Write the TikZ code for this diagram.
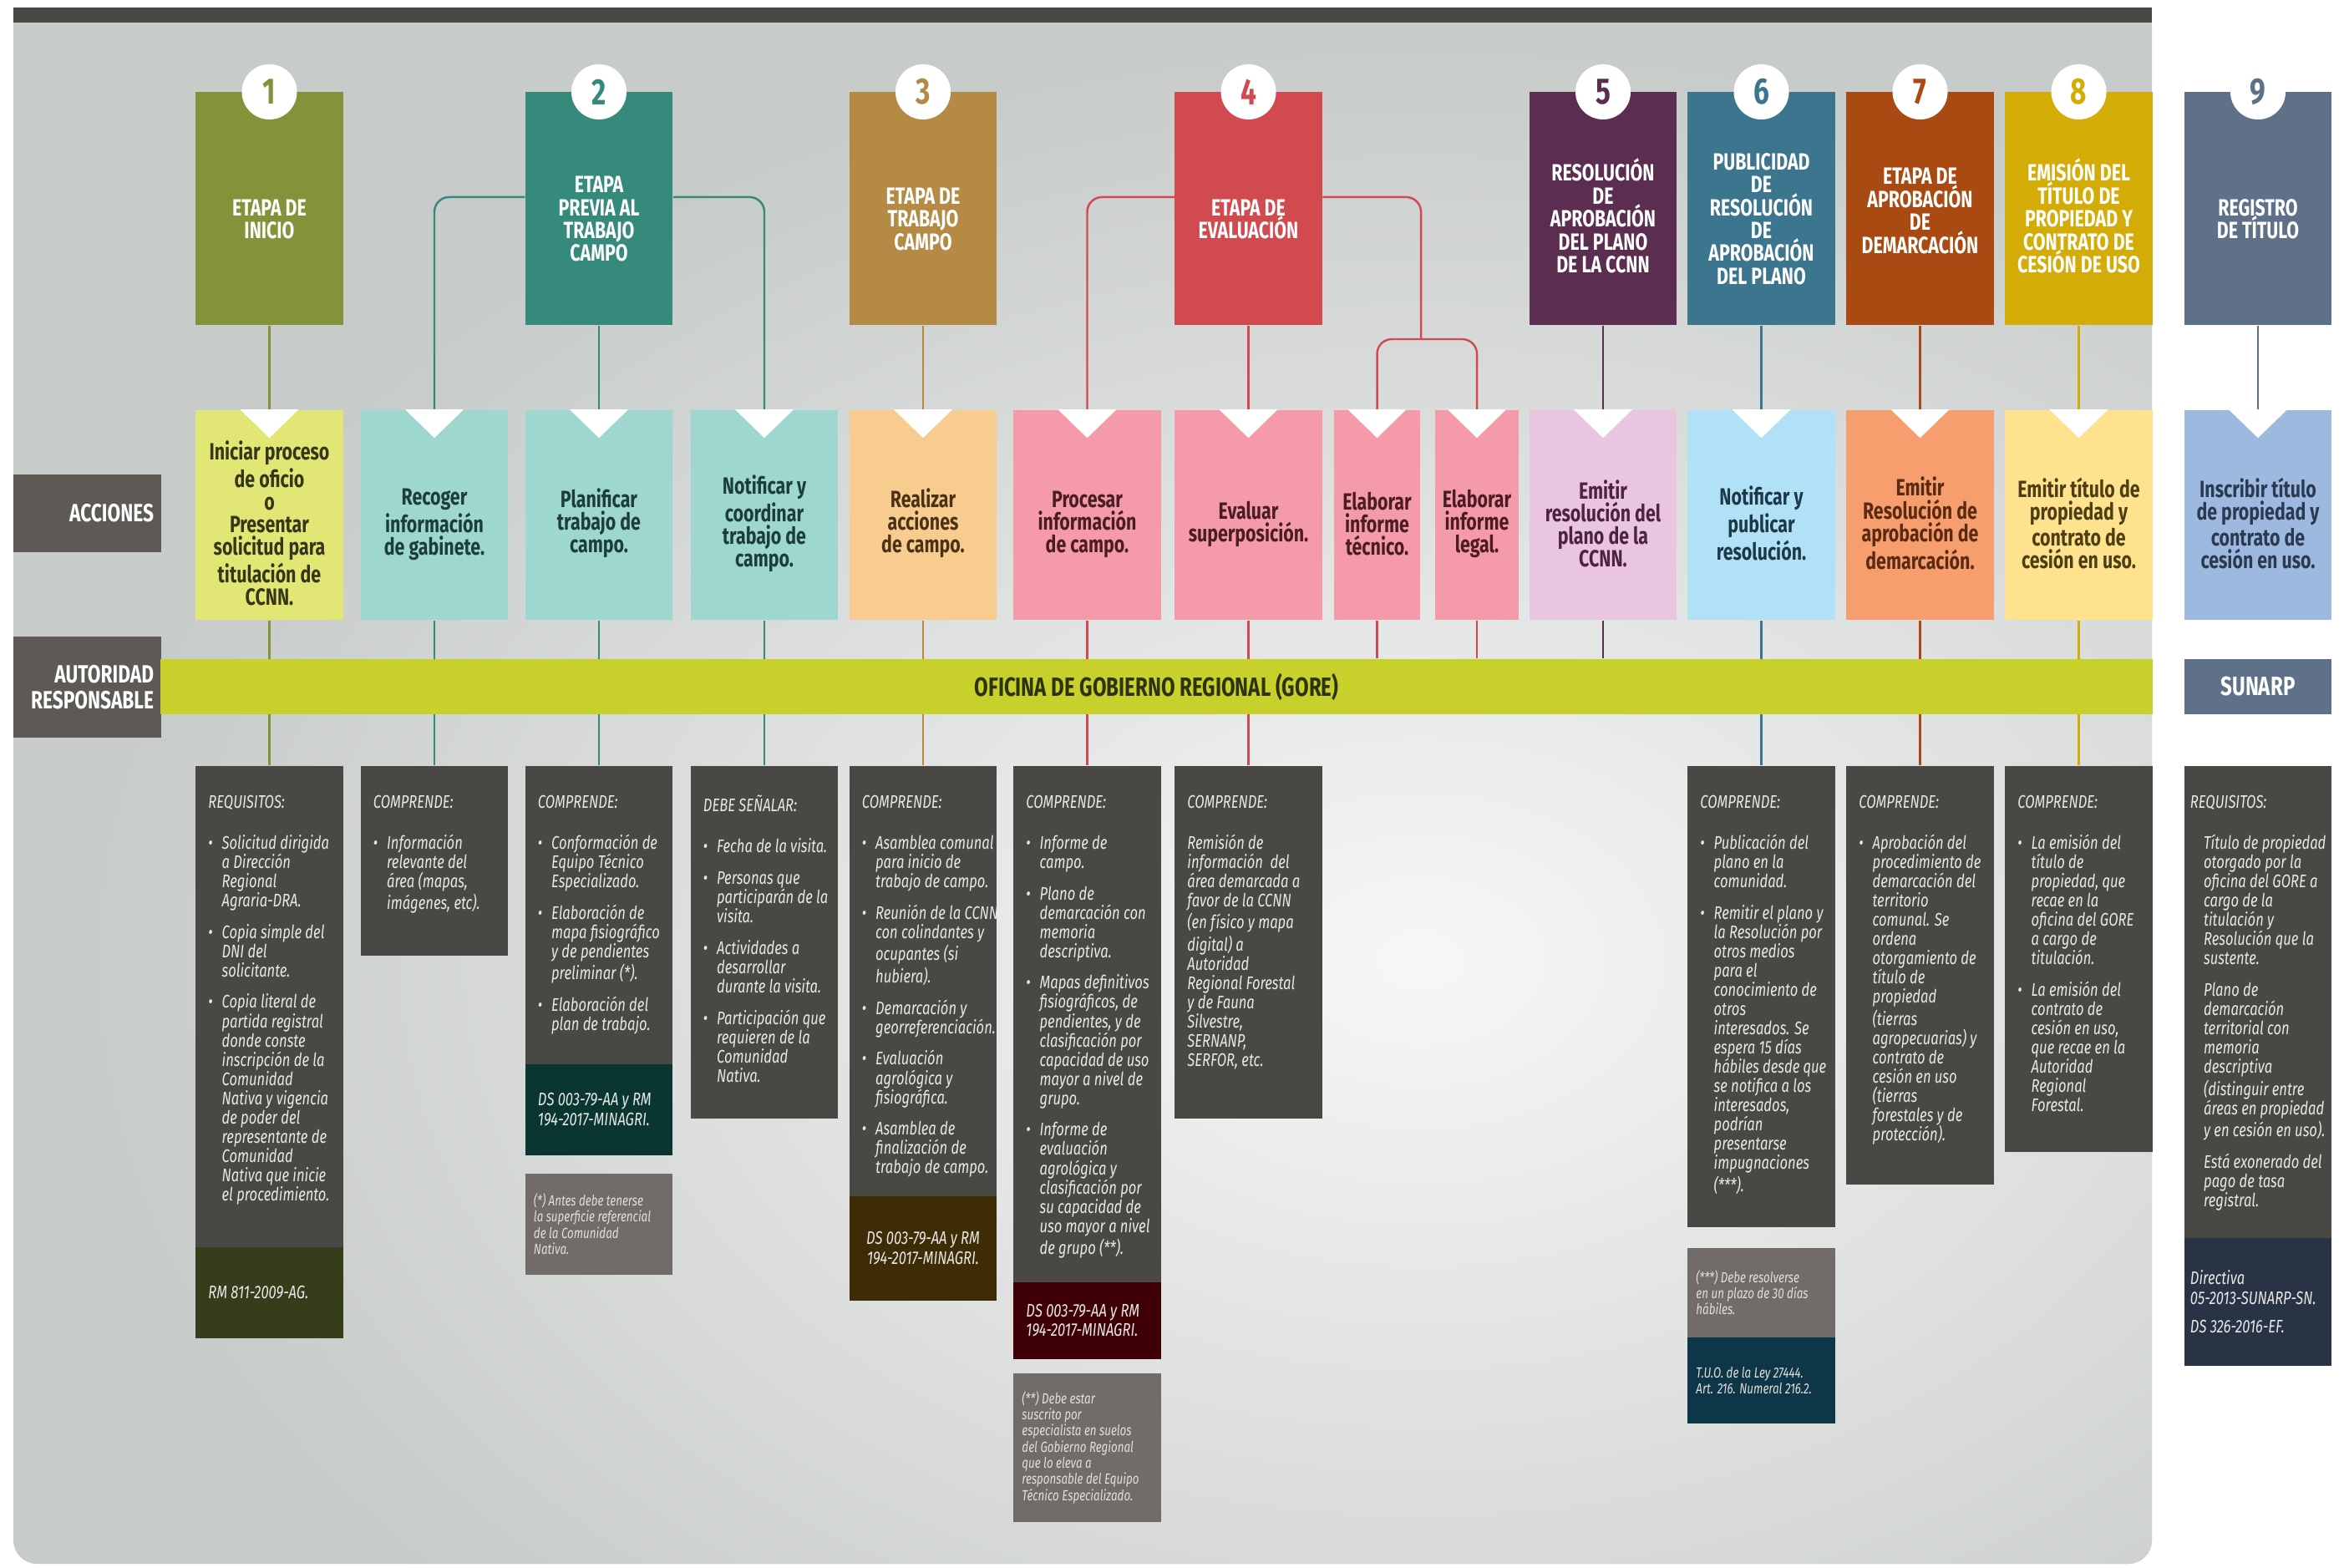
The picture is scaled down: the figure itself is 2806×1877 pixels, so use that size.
\documentclass[tikz,border=0pt]{standalone}
\usepackage{fontspec}
\setmainfont[FakeStretch=0.76]{Fira Sans}
\usetikzlibrary{shapes}
\pgfdeclarelayer{panel}
\pgfdeclarelayer{lines}
\pgfsetlayers{panel,lines,main}
\definecolor{c1}{HTML}{84933A}
\definecolor{c2}{HTML}{358A7C}
\definecolor{c3}{HTML}{B48A44}
\definecolor{c4}{HTML}{D14A50}
\definecolor{c5}{HTML}{5B2D50}
\definecolor{c6}{HTML}{3C758E}
\definecolor{c7}{HTML}{A94A12}
\definecolor{c8}{HTML}{D3AC08}
\definecolor{c9}{HTML}{5E7189}
\definecolor{f1}{HTML}{E1E675}
\definecolor{f2}{HTML}{9ED7D0}
\definecolor{f3}{HTML}{F8CC8E}
\definecolor{f4}{HTML}{F59AA9}
\definecolor{f5}{HTML}{EAC5DF}
\definecolor{f6}{HTML}{B1E1F7}
\definecolor{f7}{HTML}{F69E6E}
\definecolor{f8}{HTML}{FEE28D}
\definecolor{f9}{HTML}{9EB9E0}
\definecolor{t1}{HTML}{35361A}
\definecolor{t2}{HTML}{1D3D38}
\definecolor{t3}{HTML}{4A3217}
\definecolor{t4}{HTML}{4B1D22}
\definecolor{t5}{HTML}{4B2442}
\definecolor{t6}{HTML}{1D3947}
\definecolor{t7}{HTML}{5B2A12}
\definecolor{t8}{HTML}{4D3E14}
\definecolor{t9}{HTML}{2A3A50}
\definecolor{r1}{HTML}{363D1A}
\definecolor{r2}{HTML}{093630}
\definecolor{r3}{HTML}{3D2C05}
\definecolor{r4}{HTML}{3E0004}
\definecolor{r6}{HTML}{0D3748}
\definecolor{r9}{HTML}{283346}
\definecolor{panelGray}{HTML}{C7CBCA}
\definecolor{panelLight}{HTML}{F6F7F6}
\definecolor{topBar}{HTML}{4A4844}
\definecolor{labGray}{HTML}{5D5A56}
\definecolor{lowGray}{HTML}{4A4844}
\definecolor{lowText}{HTML}{E8E8E6}
\definecolor{noteGray}{HTML}{716C67}
\definecolor{noteText}{HTML}{E2DFDC}
\definecolor{barColor}{HTML}{C8D02C}
\definecolor{barText}{HTML}{2D3211}
\newcommand{\pushdown}[1]{\mbox{}\\[#1]}
\newcommand{\hd}[1]{#1\par\vspace{7.4pt}}
\newcommand{\itm}[1]{\hangindent=4.6pt\hangafter=1\noindent\makebox[4.6pt][l]{\textbullet}#1\par\vspace{4.2pt}}
\newcommand{\itn}[1]{{\leftskip=4.6pt\noindent#1\par}\vspace{4.2pt}}
\newcommand{\lowtext}[3][1.46cm]{\makebox[#1][l]{\begin{minipage}[t][#2][t]{2.3cm}\vspace*{10pt}\setlength{\parindent}{0pt}\rightskip=0pt plus 1fil\relax#3\end{minipage}}}

\begin{document}
\begin{tikzpicture}[x=0.01cm, y=-0.01cm]
\tikzstyle{headStyle}=[minimum width=1.76cm, minimum height=2.79cm, inner sep=0, text=white, align=center, font=\fontsize{8}{7.8}\selectfont\bfseries]
\tikzstyle{numStyle}=[circle, fill=white, minimum size=0.66cm, inner sep=0, font=\fontsize{12.5}{12.5}\selectfont\bfseries]
\tikzstyle{actStyle}=[minimum width=1.76cm, minimum height=2.51cm, inner sep=0, align=center, font=\fontsize{8}{7.7}\selectfont\bfseries]
\tikzstyle{labStyle}=[fill=labGray, text=white, minimum width=1.77cm, text width=1.59cm, inner xsep=0.09cm, inner ysep=0, align=flush right, font=\fontsize{8.5}{8.7}\selectfont\bfseries]
\tikzstyle{lowStyle}=[fill=lowGray, text=lowText, inner xsep=0.15cm, inner ysep=0, anchor=north, font=\fontsize{6.2}{6.55}\selectfont\itshape]
\tikzstyle{refStyle}=[text=lowText, text width=1.46cm, inner xsep=0.15cm, inner ysep=0, align=flush left, anchor=north, font=\fontsize{6.2}{6.65}\selectfont\itshape]
\tikzstyle{noteStyle}=[fill=noteGray, text=noteText, text width=1.56cm, inner xsep=0.1cm, inner ysep=0, align=flush left, anchor=north, font=\fontsize{5}{5.5}\selectfont\itshape]
\tikzstyle{link}=[line width=0.7pt]
\useasboundingbox (0,0) rectangle (2806,1877);
\begin{pgfonlayer}{panel}
\fill[white] (0,0) rectangle (2806,1877);
\begin{scope}
\clip (16,27) -- (2576,27) [rounded corners=8pt] -- (2576,1872) -- (16,1872) [sharp corners] -- cycle;
\fill[panelGray] (0,0) rectangle (2806,1877);
\shade[inner color=panelLight, outer color=panelGray] (1700,1150) ellipse (16cm and 11cm);
\end{scope}
\fill[topBar] (16,9) rectangle (2576,27);
\end{pgfonlayer}

\node[headStyle, fill=c1] (hd1) at (322.5,249.5) {\pushdown{5pt}ETAPA DE\\INICIO};
\node[headStyle, fill=c2] (hd2) at (717,249.5) {\pushdown{5pt}ETAPA\\PREVIA AL\\TRABAJO\\CAMPO};
\node[headStyle, fill=c3] (hd3) at (1105,249.5) {\pushdown{5pt}ETAPA DE\\TRABAJO\\CAMPO};
\node[headStyle, fill=c4] (hd4) at (1494.5,249.5) {\pushdown{5pt}ETAPA DE\\EVALUACIÓN};
\node[headStyle, fill=c5] (hd5) at (1919,249.5) {\pushdown{5pt}RESOLUCIÓN\\DE\\APROBACIÓN\\DEL PLANO\\DE LA CCNN};
\node[headStyle, fill=c6] (hd6) at (2108.5,249.5) {\pushdown{5pt}PUBLICIDAD\\DE\\RESOLUCIÓN\\DE\\APROBACIÓN\\DEL PLANO};
\node[headStyle, fill=c7] (hd7) at (2298.5,249.5) {\pushdown{-0.5pt}ETAPA DE\\APROBACIÓN\\DE\\DEMARCACIÓN};
\node[headStyle, fill=c8] (hd8) at (2488.5,249.5) {\pushdown{5pt}EMISIÓN DEL\\TÍTULO DE\\PROPIEDAD Y\\CONTRATO DE\\CESIÓN DE USO};
\node[headStyle, fill=c9] (hd9) at (2703,249.5) {\pushdown{5pt}REGISTRO\\DE TÍTULO};

\node[numStyle, text=c1] (num1) at (322.5,110) {1};
\node[numStyle, text=c2] (num2) at (717,110) {2};
\node[numStyle, text=c3] (num3) at (1105,110) {3};
\node[numStyle, text=c4] (num4) at (1494.5,110) {4};
\node[numStyle, text=c5] (num5) at (1919,110) {5};
\node[numStyle, text=c6] (num6) at (2108.5,110) {6};
\node[numStyle, text=c7] (num7) at (2298.5,110) {7};
\node[numStyle, text=c8] (num8) at (2488.5,110) {8};
\node[numStyle, text=c9] (num9) at (2703,110) {9};

\node[actStyle, fill=f1, text=t1] (act1) at (322.5,616.5) {\pushdown{4.5pt}Iniciar proceso\\de oficio\\o\\Presentar\\solicitud para\\titulación de\\CCNN.};
\node[actStyle, fill=f2, text=t2] (act2a) at (520,616.5) {\pushdown{4.5pt}Recoger\\información\\de gabinete.};
\node[actStyle, fill=f2, text=t2] (act2b) at (717,616.5) {\pushdown{4.5pt}Planificar\\trabajo de\\campo.};
\node[actStyle, fill=f2, text=t2] (act2c) at (915,616.5) {\pushdown{4.5pt}Notificar y\\coordinar\\trabajo de\\campo.};
\node[actStyle, fill=f3, text=t3] (act3) at (1105,616.5) {\pushdown{4.5pt}Realizar\\acciones\\de campo.};
\node[actStyle, fill=f4, text=t4] (act4a) at (1301.5,616.5) {\pushdown{4.5pt}Procesar\\información\\de campo.};
\node[actStyle, fill=f4, text=t4] (act4b) at (1494.5,616.5) {\pushdown{4.5pt}Evaluar\\superposición.};
\node[actStyle, fill=f4, text=t4, minimum width=1.03cm] (act4c) at (1648.5,616.5) {\pushdown{4.5pt}Elaborar\\informe\\técnico.};
\node[actStyle, fill=f4, text=t4, minimum width=1.0cm] (act4d) at (1768,616.5) {\pushdown{4.5pt}Elaborar\\informe\\legal.};
\node[actStyle, fill=f5, text=t5] (act5) at (1919,616.5) {\pushdown{4.5pt}Emitir\\resolución del\\plano de la\\CCNN.};
\node[actStyle, fill=f6, text=t6] (act6) at (2108.5,616.5) {\pushdown{4.5pt}Notificar y\\publicar\\resolución.};
\node[actStyle, fill=f7, text=t7] (act7) at (2298.5,616.5) {\pushdown{4.5pt}Emitir\\Resolución de\\aprobación de\\demarcación.};
\node[actStyle, fill=f8, text=t8] (act8) at (2488.5,616.5) {\pushdown{4.5pt}Emitir título de\\propiedad y\\contrato de\\cesión en uso.};
\node[actStyle, fill=f9, text=t9] (act9) at (2703,616.5) {\pushdown{4.5pt}Inscribir título\\de propiedad y\\contrato de\\cesión en uso.};
\foreach \a in {act1,act2a,act2b,act2c,act3,act4a,act4b,act4c,act4d,act5,act6,act7,act8,act9}
  \fill[white] ([xshift=-0.35cm]\a.north) -- ([xshift=0.35cm]\a.north) -- ([yshift=-0.34cm]\a.north) -- cycle;

\node[labStyle, minimum height=0.93cm] (acc) at (104.5,614.5) {ACCIONES};
\node[labStyle, minimum height=1.21cm] (aut) at (104.5,822.5) {AUTORIDAD\\RESPONSABLE};
\node[fill=barColor, minimum width=23.83cm, minimum height=0.66cm, inner sep=0, text=barText, font=\fontsize{9}{9}\selectfont\bfseries] (gore) at (1384.5,822) {OFICINA DE GOBIERNO REGIONAL (GORE)};
\node[fill=c9, minimum width=1.76cm, minimum height=0.66cm, inner sep=0, text=white, font=\fontsize{9}{9}\selectfont\bfseries] (sunarp) at (2703,822) {SUNARP};

\node[lowStyle] (low1) at (322.5,916) {\lowtext{5.76cm}{\hd{REQUISITOS:}
\itm{Solicitud dirigida\\a Dirección\\Regional\\Agraria-DRA.}
\itm{Copia simple del\\DNI del\\solicitante.}
\itm{Copia literal de\\partida registral\\donde conste\\inscripción de la\\Comunidad\\Nativa y vigencia\\de poder del\\representante de\\Comunidad\\Nativa que inicie\\el procedimiento.}}};
\node[refStyle, fill=r1, minimum height=1.09cm] (ref1) at (322.5,1492) {RM 811-2009-AG.};

\node[lowStyle] (low2a) at (520,916) {\lowtext{2.27cm}{\hd{COMPRENDE:}
\itm{Información\\relevante del\\área (mapas,\\imágenes, etc).}}};

\node[lowStyle] (low2b) at (717,916) {\lowtext{3.57cm}{\hd{COMPRENDE:}
\itm{Conformación de\\Equipo Técnico\\Especializado.}
\itm{Elaboración de\\mapa fisiográfico\\y de pendientes\\preliminar (*).}
\itm{Elaboración del\\plan de trabajo.}}};
\node[refStyle, fill=r2, minimum height=1.09cm] (ref2b) at (717,1273) {DS 003-79-AA y RM\\194-2017-MINAGRI.};
\node[noteStyle, minimum height=1.21cm] (nb2b) at (717,1404) {(*) Antes debe tenerse\\la superficie referencial\\de la Comunidad\\Nativa.};

\node[lowStyle] (low2c) at (915,916) {\lowtext{4.22cm}{\hd{DEBE SEÑALAR:}
\itm{Fecha de la visita.}
\itm{Personas que\\participarán de la\\visita.}
\itm{Actividades a\\desarrollar\\durante la visita.}
\itm{Participación que\\requieren de la\\Comunidad\\Nativa.}}};

\node[lowStyle] (low3) at (1105,916) {\lowtext{5.15cm}{\hd{COMPRENDE:}
\itm{Asamblea comunal\\para inicio de\\trabajo de campo.}
\itm{Reunión de la CCNN\\con colindantes y\\ocupantes (si\\hubiera).}
\itm{Demarcación y\\georreferenciación.}
\itm{Evaluación\\agrológica y\\fisiográfica.}
\itm{Asamblea de\\finalización de\\trabajo de campo.}}};
\node[refStyle, fill=r3, minimum height=1.25cm, align=flush center] (ref3) at (1105,1431) {DS 003-79-AA y RM\\194-2017-MINAGRI.};

\node[lowStyle] (low4a) at (1301.5,916) {\lowtext{6.18cm}{\hd{COMPRENDE:}
\itm{Informe de\\campo.}
\itm{Plano de\\demarcación con\\memoria\\descriptiva.}
\itm{Mapas definitivos\\fisiográficos, de\\pendientes, y de\\clasificación por\\capacidad de uso\\mayor a nivel de\\grupo.}
\itm{Informe de\\evaluación\\agrológica y\\clasificación por\\su capacidad de\\uso mayor a nivel\\de grupo (**).}}};
\node[refStyle, fill=r4, minimum height=0.92cm] (ref4a) at (1301.5,1534) {DS 003-79-AA y RM\\194-2017-MINAGRI.};
\node[noteStyle, minimum height=1.78cm] (nb4a) at (1301.5,1643) {(**) Debe estar\\suscrito por\\especialista en suelos\\del Gobierno Regional\\que lo eleva a\\responsable del Equipo\\Técnico Especializado.};

\node[lowStyle] (low4b) at (1494.5,916) {\lowtext{4.22cm}{\hd{COMPRENDE:}
Remisión de\\información\ \ del\\área demarcada a\\favor de la CCNN\\(en físico y mapa\\digital) a\\Autoridad\\Regional Forestal\\y de Fauna\\Silvestre,\\SERNANP,\\SERFOR, etc.}};

\node[lowStyle] (low6) at (2108.5,916) {\lowtext{5.52cm}{\hd{COMPRENDE:}
\itm{Publicación del\\plano en la\\comunidad.}
\itm{Remitir el plano y\\la Resolución por\\otros medios\\para el\\conocimiento de\\otros\\interesados. Se\\espera 15 días\\hábiles desde que\\se notifica a los\\interesados,\\podrían\\presentarse\\impugnaciones\\(***).}}};
\node[noteStyle, minimum height=1.07cm] (nb6) at (2108.5,1493) {(***) Debe resolverse\\en un plazo de 30 días\\hábiles.};
\node[noteStyle, fill=r6, minimum height=1.03cm] (ref6) at (2108.5,1600) {T.U.O. de la Ley 27444.\\Art. 216. Numeral 216.2.};

\node[lowStyle] (low7) at (2298.5,916) {\lowtext{5.01cm}{\hd{COMPRENDE:}
\itm{Aprobación del\\procedimiento de\\demarcación del\\territorio\\comunal. Se\\ordena\\otorgamiento de\\título de\\propiedad\\(tierras\\agropecuarias) y\\contrato de\\cesión en uso\\(tierras\\forestales y de\\protección).}}};

\node[lowStyle] (low8) at (2488.5,916) {\lowtext{4.62cm}{\hd{COMPRENDE:}
\itm{La emisión del\\título de\\propiedad, que\\recae en la\\oficina del GORE\\a cargo de\\titulación.}
\itm{La emisión del\\contrato de\\cesión en uso,\\que recae en la\\Autoridad\\Regional\\Forestal.}}};

\node[lowStyle, inner xsep=0.07cm] (low9) at (2703,916) {\lowtext[1.62cm]{5.65cm}{\hd{REQUISITOS:}
\itn{Título de propiedad\\otorgado por la\\oficina del GORE a\\cargo de la\\titulación y\\Resolución que la\\sustente.}
\itn{Plano de\\demarcación\\territorial con\\memoria\\descriptiva\\(distinguir entre\\áreas en propiedad\\y en cesión en uso).}
\itn{Está exonerado del\\pago de tasa\\registral.}}};
\node[refStyle, fill=r9, minimum height=1.53cm, text width=1.62cm, inner xsep=0.07cm] (ref9) at (2703,1481) {Directiva\\05-2013-SUNARP-SN.\\[3pt]DS 326-2016-EF.};

\coordinate (j4) at (1701,406);
\begin{pgfonlayer}{lines}
\draw[link, draw=c1] (hd1.south) -- (act1.north);
\draw[link, draw=c1] (act1.south) -- (low1.north);
\draw[link, draw=c2, rounded corners=5pt] ([yshift=0.135cm]hd2.west) -| (act2a.north);
\draw[link, draw=c2] (hd2.south) -- (act2b.north);
\draw[link, draw=c2, rounded corners=5pt] ([yshift=0.135cm]hd2.east) -| (act2c.north);
\draw[link, draw=c2] (act2a.south) -- (low2a.north);
\draw[link, draw=c2] (act2b.south) -- (low2b.north);
\draw[link, draw=c2] (act2c.south) -- (low2c.north);
\draw[link, draw=c3] (hd3.south) -- (act3.north);
\draw[link, draw=c3] (act3.south) -- (low3.north);
\draw[link, draw=c4, rounded corners=5pt] ([yshift=0.135cm]hd4.west) -| (act4a.north);
\draw[link, draw=c4] (hd4.south) -- (act4b.north);
\draw[link, draw=c4, rounded corners=5pt] ([yshift=0.135cm]hd4.east) -| (j4);
\draw[link, draw=c4, rounded corners=5pt] (act4c.north) |- (j4) -| (act4d.north);
\draw[link, draw=c4] (act4a.south) -- (low4a.north);
\draw[link, draw=c4] (act4b.south) -- (low4b.north);
\draw[link, draw=c4] (act4c.south) -- (act4c.south |- gore.north);
\draw[link, draw=c4] (act4d.south) -- (act4d.south |- gore.north);
\draw[link, draw=c5] (hd5.south) -- (act5.north);
\draw[link, draw=c5] (act5.south) -- (act5.south |- gore.north);
\draw[link, draw=c6] (hd6.south) -- (act6.north);
\draw[link, draw=c6] (act6.south) -- (low6.north);
\draw[link, draw=c7] (hd7.south) -- (act7.north);
\draw[link, draw=c7] (act7.south) -- (low7.north);
\draw[link, draw=c8] (hd8.south) -- (act8.north);
\draw[link, draw=c8] (act8.south) -- (low8.north);
\draw[link, draw=c9] (hd9.south) -- (act9.north);
\end{pgfonlayer}
\end{tikzpicture}
\end{document}
